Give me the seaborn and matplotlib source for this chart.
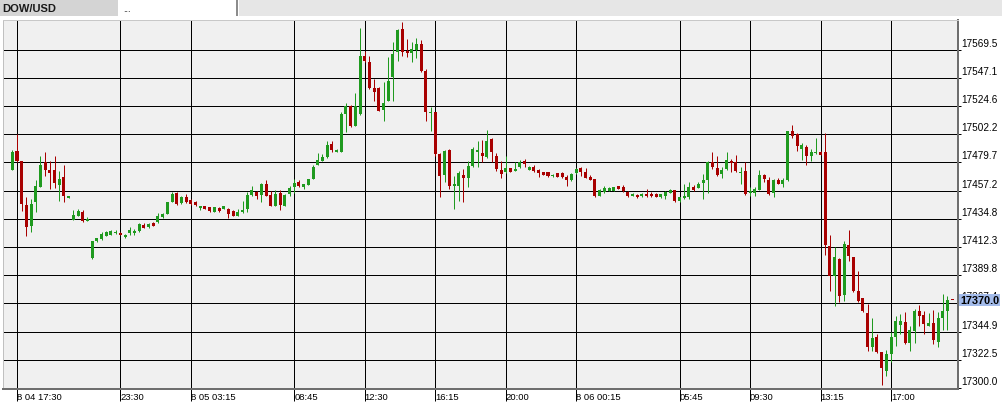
import matplotlib
matplotlib.use("Agg")
import matplotlib.pyplot as plt
from matplotlib.patches import Rectangle
import seaborn as sns
import pandas as pd

symbol = 'DOW/USD'

opens = [17473.9, 17488.5, 17480.8, 17446.0, 17428.7, 17447.9, 17460.3, 17480.2, 17473.9, 17473.6,
         17461.9, 17468.0, 17451.0, 17434.0, 17437.2, 17440.4, 17433.3, 17403.2, 17416.8, 17418.7,
         17421.3, 17422.1, 17423.2, 17423.4, 17420.5, 17423.4, 17423.2, 17425.3, 17429.8, 17427.9,
         17431.4, 17431.9, 17435.9, 17438.6, 17448.4, 17455.3, 17447.1, 17451.8, 17449.7, 17448.4,
         17443.1, 17444.7, 17443.9, 17440.4, 17443.4, 17442.8, 17443.0, 17440.9, 17437.2, 17439.9,
         17442.6, 17454.0, 17456.4, 17454.0, 17462.5, 17453.7, 17445.2, 17455.3, 17445.2, 17454.5,
         17460.4, 17463.8, 17459.8, 17461.9, 17466.5, 17477.9, 17481.1, 17483.7, 17494.3, 17488.2,
         17488.2, 17518.2, 17524.9, 17508.9, 17518.2, 17564.2, 17559.9, 17538.9, 17538.7, 17521.7,
         17528.9, 17547.4, 17568.1, 17585.9, 17568.7, 17566.6, 17569.2, 17574.0, 17552.7, 17518.8,
         17519.6, 17486.4, 17469.9, 17489.6, 17461.2, 17461.2, 17469.6, 17467.0, 17476.6, 17488.2,
         17487.2, 17483.7, 17498.3, 17485.0, 17473.6, 17471.8, 17475.0, 17473.1, 17475.8, 17481.1,
         17473.9, 17475.8, 17473.6, 17471.8, 17471.8, 17468.6, 17471.0, 17470.9, 17468.5, 17465.6,
         17471.2, 17474.9, 17472.3, 17468.5, 17466.4, 17453.1, 17455.8, 17457.1, 17457.1, 17460.6,
         17459.8, 17456.3, 17453.1, 17453.7, 17452.6, 17454.5, 17454.5, 17454.5, 17451.8, 17453.1,
         17455.3, 17457.7, 17449.2, 17451.3, 17451.8, 17459.8, 17459.2, 17463.2, 17465.6, 17479.7,
         17474.9, 17470.4, 17474.4, 17481.0, 17479.7, 17470.9, 17473.0, 17455.3, 17455.3, 17457.9,
         17469.6, 17465.6, 17455.3, 17465.6, 17462.9, 17465.6, 17504.4, 17502.2, 17490.3, 17492.4,
         17485.0, 17487.1, 17488.2, 17487.7, 17413.3, 17389.4, 17402.7, 17374.0, 17413.8, 17404.0,
         17377.5, 17371.4, 17359.7, 17332.3, 17340.3, 17328.4, 17313.7, 17327.0, 17340.3, 17350.4,
         17352.8, 17335.5, 17345.6, 17361.0, 17358.1, 17349.6, 17351.7, 17336.3, 17355.4, 17361.5,
         17370.0]

highs = [17489.3, 17502.2, 17481.0, 17451.8, 17450.5, 17465.9, 17485.0, 17487.7, 17481.0, 17484.5,
         17473.1, 17477.9, 17452.6, 17442.0, 17442.5, 17441.7, 17435.9, 17417.3, 17419.7, 17424.0,
         17425.3, 17426.1, 17426.1, 17424.0, 17422.6, 17427.9, 17426.6, 17431.4, 17431.1, 17431.1,
         17431.9, 17439.4, 17439.1, 17448.4, 17455.8, 17456.4, 17453.2, 17454.5, 17450.5, 17448.9,
         17445.2, 17445.2, 17444.4, 17444.2, 17444.2, 17445.2, 17443.8, 17442.0, 17443.0, 17449.2,
         17456.4, 17461.2, 17456.9, 17463.0, 17465.9, 17457.2, 17458.0, 17458.0, 17454.5, 17461.2,
         17466.5, 17465.9, 17462.7, 17466.7, 17477.9, 17487.2, 17486.4, 17496.5, 17497.0, 17490.3,
         17519.6, 17527.0, 17525.4, 17535.0, 17586.5, 17568.7, 17564.7, 17546.1, 17539.5, 17543.5,
         17563.4, 17575.3, 17585.9, 17591.8, 17578.0, 17575.3, 17578.5, 17577.4, 17554.1, 17523.5,
         17520.1, 17486.9, 17489.6, 17490.1, 17469.1, 17473.1, 17474.4, 17481.1, 17491.7, 17497.0,
         17497.8, 17505.5, 17498.9, 17486.9, 17481.1, 17484.5, 17475.2, 17480.3, 17481.6, 17482.4,
         17477.1, 17477.6, 17474.4, 17472.3, 17472.3, 17470.2, 17471.2, 17471.7, 17469.6, 17471.2,
         17474.9, 17476.2, 17474.9, 17469.6, 17466.9, 17458.4, 17461.1, 17459.8, 17460.3, 17461.1,
         17461.6, 17456.9, 17455.3, 17454.2, 17455.0, 17458.4, 17455.8, 17455.3, 17454.8, 17457.1,
         17458.4, 17457.9, 17452.3, 17462.4, 17464.3, 17461.6, 17464.3, 17470.4, 17480.7, 17487.7,
         17484.5, 17475.7, 17487.7, 17482.3, 17485.5, 17475.7, 17479.7, 17459.8, 17459.8, 17473.8,
         17470.4, 17468.5, 17466.4, 17467.7, 17467.7, 17504.9, 17509.4, 17502.8, 17495.1, 17493.5,
         17490.8, 17498.8, 17488.7, 17503.1, 17421.8, 17412.0, 17403.2, 17417.3, 17426.1, 17404.5,
         17393.4, 17371.9, 17366.8, 17355.4, 17343.0, 17328.9, 17330.2, 17344.3, 17357.6, 17358.9,
         17360.2, 17349.6, 17362.9, 17366.3, 17361.5, 17359.4, 17362.1, 17360.7, 17374.8, 17373.5,
         17370.0]

lows = [17473.6, 17480.2, 17441.2, 17421.3, 17424.0, 17440.4, 17459.8, 17468.6, 17458.5, 17459.0,
        17448.7, 17448.4, 17451.0, 17434.0, 17436.7, 17432.5, 17433.3, 17402.7, 17416.5, 17418.1,
        17421.3, 17421.8, 17422.6, 17421.8, 17419.4, 17421.8, 17422.1, 17424.0, 17427.1, 17427.7,
        17429.0, 17431.4, 17435.6, 17438.3, 17447.9, 17445.7, 17446.5, 17447.3, 17446.0, 17445.2,
        17442.0, 17442.3, 17440.2, 17440.2, 17440.4, 17442.6, 17435.6, 17436.7, 17436.7, 17439.3,
        17440.4, 17453.2, 17450.5, 17448.4, 17452.6, 17445.0, 17445.0, 17442.0, 17444.7, 17453.2,
        17455.3, 17460.4, 17458.5, 17461.7, 17466.2, 17477.6, 17480.5, 17482.9, 17488.2, 17487.7,
        17487.7, 17503.6, 17507.6, 17508.4, 17517.7, 17559.9, 17538.1, 17528.9, 17520.6, 17512.9,
        17528.3, 17528.9, 17560.7, 17564.7, 17563.4, 17559.4, 17562.6, 17552.0, 17512.9, 17505.0,
        17485.0, 17451.9, 17463.8, 17458.5, 17442.6, 17449.2, 17448.4, 17459.8, 17475.8, 17475.8,
        17479.7, 17483.2, 17480.3, 17473.1, 17467.3, 17471.2, 17472.0, 17472.8, 17475.0, 17475.8,
        17473.6, 17471.8, 17467.8, 17469.6, 17468.0, 17468.3, 17468.0, 17467.7, 17461.1, 17464.8,
        17470.4, 17469.1, 17467.2, 17465.6, 17451.8, 17452.6, 17455.3, 17456.9, 17456.9, 17458.2,
        17455.8, 17452.3, 17452.6, 17451.3, 17452.3, 17451.8, 17452.1, 17452.1, 17451.5, 17450.5,
        17455.0, 17448.4, 17448.4, 17450.5, 17450.5, 17457.1, 17459.0, 17450.5, 17455.3, 17474.4,
        17469.1, 17467.7, 17473.8, 17471.7, 17472.3, 17462.4, 17453.7, 17453.1, 17452.6, 17457.4,
        17464.3, 17453.9, 17452.3, 17462.4, 17459.8, 17465.3, 17498.8, 17489.0, 17481.8, 17477.8,
        17481.0, 17486.6, 17485.5, 17405.9, 17377.5, 17365.5, 17368.2, 17369.5, 17401.4, 17376.1,
        17368.7, 17360.2, 17329.7, 17329.7, 17327.8, 17302.3, 17309.2, 17320.4, 17333.7, 17343.0,
        17335.0, 17329.1, 17335.8, 17349.1, 17343.0, 17349.1, 17335.0, 17332.3, 17346.4, 17346.4,
        17370.0]

closes = [17488.2, 17480.8, 17446.5, 17428.5, 17446.5, 17461.1, 17477.6, 17473.9, 17471.0, 17463.0,
          17466.4, 17453.2, 17452.6, 17437.8, 17441.2, 17433.0, 17434.6, 17417.1, 17419.7, 17422.6,
          17424.5, 17425.0, 17424.5, 17422.1, 17422.1, 17425.8, 17425.3, 17430.6, 17427.7, 17430.6,
          17429.3, 17436.7, 17438.3, 17447.9, 17454.5, 17446.5, 17452.4, 17447.9, 17446.6, 17445.8,
          17444.7, 17442.6, 17440.7, 17443.9, 17441.0, 17444.7, 17438.5, 17437.2, 17440.4, 17441.5,
          17454.0, 17457.7, 17453.2, 17462.5, 17453.2, 17445.2, 17454.5, 17445.8, 17453.7, 17459.3,
          17463.0, 17460.6, 17462.5, 17466.5, 17476.3, 17481.9, 17483.7, 17493.5, 17489.8, 17489.8,
          17518.2, 17524.3, 17508.4, 17524.9, 17564.2, 17560.7, 17538.7, 17536.0, 17520.9, 17527.0,
          17544.8, 17566.0, 17585.4, 17567.9, 17566.6, 17570.0, 17574.0, 17552.7, 17520.1, 17520.1,
          17486.4, 17469.1, 17489.0, 17461.2, 17462.5, 17471.2, 17467.5, 17477.1, 17490.3, 17489.6,
          17485.0, 17497.0, 17487.7, 17474.4, 17470.4, 17475.0, 17472.3, 17474.4, 17480.3, 17478.4,
          17475.8, 17473.1, 17471.2, 17469.9, 17468.6, 17469.9, 17468.3, 17468.5, 17465.6, 17470.4,
          17474.4, 17472.3, 17467.7, 17465.9, 17452.6, 17457.9, 17459.0, 17459.0, 17459.8, 17458.4,
          17456.6, 17452.6, 17454.5, 17451.8, 17454.5, 17452.6, 17452.6, 17452.3, 17454.5, 17456.3,
          17457.7, 17449.2, 17451.8, 17453.1, 17459.8, 17457.7, 17462.4, 17465.6, 17480.2, 17475.7,
          17469.6, 17473.8, 17481.5, 17478.9, 17473.0, 17472.3, 17454.5, 17457.1, 17458.4, 17469.6,
          17466.4, 17454.5, 17465.6, 17462.9, 17465.9, 17504.4, 17500.9, 17492.9, 17493.5, 17484.5,
          17487.7, 17488.4, 17485.8, 17413.8, 17389.4, 17404.5, 17373.5, 17414.6, 17404.8, 17377.5,
          17369.5, 17361.5, 17332.3, 17339.8, 17328.4, 17315.6, 17327.0, 17340.3, 17353.6, 17353.6,
          17335.5, 17346.1, 17361.5, 17357.6, 17350.9, 17351.7, 17338.4, 17355.7, 17361.5, 17370.0,
          17370.0]

price_ticks = [17300.0, 17322.5, 17344.9, 17367.4, 17389.8, 17412.3, 17434.8,
               17457.2, 17479.7, 17502.2, 17524.6, 17547.1, 17569.5]
time_labels = ['8 04 17:30', '23:30', '8 05 03:15', '08:45', '12:30', '16:15',
               '20:00', '8 06 00:15', '05:45', '09:30', '13:15', '17:00']
time_bars = [1, 23, 38, 60, 75, 90, 105, 120, 142, 157, 172, 187]
last_price = 17370.0

UP = '#1f9a1f'
DOWN = '#a80000'
PX = 0.72  # one pixel in points at 100 dpi

df = pd.DataFrame({'open': opens, 'high': highs, 'low': lows, 'close': closes})
df['bar'] = range(len(df))
df['color'] = [UP if c > o else DOWN for o, c in zip(df['open'], df['close'])]
df['bottom'] = df[['open', 'close']].min(axis=1)
df['body'] = (df['close'] - df['open']).abs().clip(lower=0.8)

sns.set_style('white')
plt.rcParams['font.family'] = ['Liberation Sans', 'DejaVu Sans']

W, H = 1002, 414
fig = plt.figure(figsize=(W / 100, H / 100), dpi=100)
fig.patch.set_facecolor('white')

# tab strip at the top
fig.add_artist(Rectangle((0, 1 - 17 / H), 118 / W, 17 / H, transform=fig.transFigure,
                         fc='#d4d4d4', ec='none'))
fig.add_artist(Rectangle((239 / W, 1 - 17 / H), (W - 239) / W, 17 / H, transform=fig.transFigure,
                         fc='#e6e6e6', ec='none'))
fig.add_artist(Rectangle((236 / W, 1 - 17 / H), 2 / W, 17 / H, transform=fig.transFigure,
                         fc='#8c8c8c', ec='none'))
fig.text(2 / W, 1 - 8.5 / H, symbol, fontsize=8, fontweight='bold', color='#1a1a1a',
         va='center', ha='left')
fig.text(123 / W, 1 - 10 / H, '...', fontsize=6.5, color='#333333', va='center', ha='left')

ax = fig.add_axes([3 / W, 24 / H, 955 / W, 369 / H])
ax.set_facecolor('#f0f0f0')

ax.vlines(df['bar'], df['low'], df['high'], colors=df['color'], linewidth=PX, zorder=3)
ax.bar(df['bar'], df['body'], bottom=df['bottom'], width=0.64, color=df['color'],
       linewidth=0, zorder=4)

ax.set_xlim(-1.98, 201.25)
ax.set_ylim(17299.2, 17593.2)
ax.set_yticks(price_ticks)
ax.set_xticks(time_bars)
ax.grid(True, color='black', linewidth=PX)
ax.set_axisbelow(True)

ax.tick_params(axis='x', direction='out', length=12 * PX, width=PX, color='black',
               labelbottom=False, bottom=True)
ax.tick_params(axis='y', left=False, right=True, length=3 * PX, width=PX, color='black',
               labelleft=False, labelright=False)

for side, col, lw in [('left', '#c0c0c0', 1), ('top', '#c8c8c8', 1),
                      ('bottom', '#6e6e6e', 2), ('right', '#6e6e6e', 2)]:
    ax.spines[side].set_color(col)
    ax.spines[side].set_linewidth(lw * PX)
    ax.spines[side].set_visible(True)

for v in price_ticks:
    ax.annotate(f'{v:.1f}', xy=(1, v), xycoords=('axes fraction', 'data'),
                xytext=(3, 4), textcoords='offset pixels', ha='left', va='baseline',
                fontsize=7.2, color='black', annotation_clip=False)

ax.annotate(f'{last_price:.1f}', xy=(1, last_price), xycoords=('axes fraction', 'data'),
            xytext=(2, 0), textcoords='offset pixels', ha='left', va='center',
            fontsize=7.8, fontweight='bold', color='black', annotation_clip=False, zorder=10,
            bbox=dict(boxstyle='square,pad=0.12', fc='#a3bbea', ec='none'))

for b, t in zip(time_bars, time_labels):
    ax.annotate(t, xy=(b, 0), xycoords=('data', 'axes fraction'),
                xytext=(0, -3), textcoords='offset pixels', ha='left', va='top',
                fontsize=6.8, color='black', annotation_clip=False)

fig.savefig('out.png', dpi=100)
